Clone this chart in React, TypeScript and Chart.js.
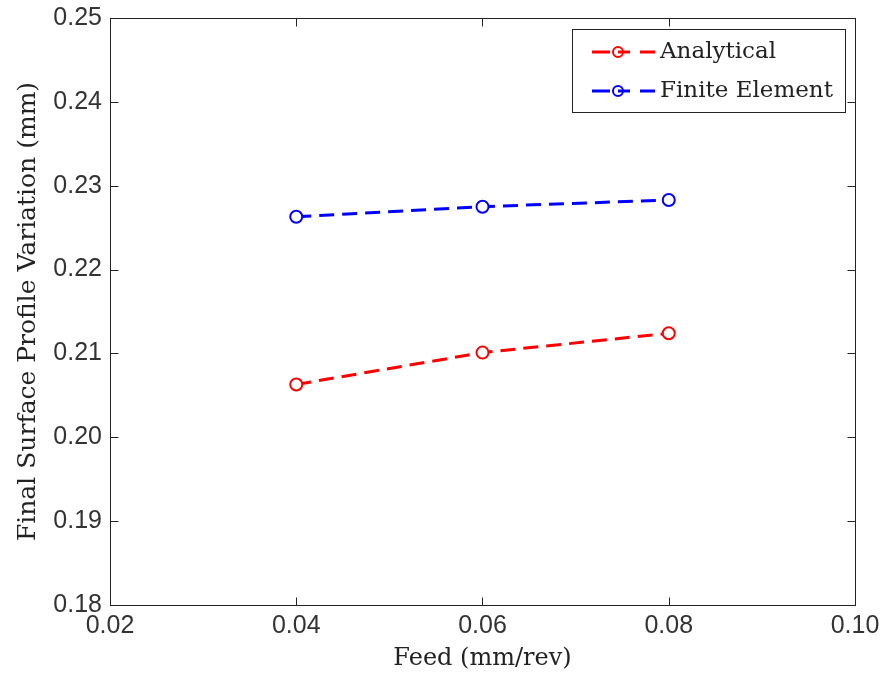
import React, { useEffect, useRef } from "react";
import { Chart, registerables } from "chart.js";
Chart.register(...registerables);

const feed = [0.04, 0.06, 0.08];
const analytical = [0.2063, 0.2101, 0.2124];
const finiteElement = [0.2263, 0.2275, 0.2283];
const seriesNames = ["Analytical", "Finite Element"];
const seriesColors = ["#ff0000", "#0000ff"];
const xTicks = [0.02, 0.04, 0.06, 0.08, 0.1];
const yTicks = [0.18, 0.19, 0.2, 0.21, 0.22, 0.23, 0.24, 0.25];

const SERIF = "'DejaVu Serif'";
const SANS = "'Liberation Sans'";

const framePlugin = {
  id: "frame",
  afterDraw(chart: any) {
    const { ctx, chartArea: a, scales } = chart;
    ctx.save();
    ctx.strokeStyle = "#222";
    ctx.lineWidth = 1;
    const L = Math.round(a.left) + 0.5, R = Math.round(a.right) + 0.5;
    const T = Math.round(a.top) + 0.5, B = Math.round(a.bottom) + 0.5;
    ctx.strokeRect(L, T, R - L, B - T);
    const tl = 8;
    ctx.beginPath();
    xTicks.forEach((v) => {
      const x = Math.round(scales.x.getPixelForValue(v)) + 0.5;
      ctx.moveTo(x, B); ctx.lineTo(x, B - tl);
      ctx.moveTo(x, T); ctx.lineTo(x, T + tl);
    });
    yTicks.forEach((v) => {
      const y = Math.round(scales.y.getPixelForValue(v)) + 0.5;
      ctx.moveTo(L, y); ctx.lineTo(L + tl, y);
      ctx.moveTo(R, y); ctx.lineTo(R - tl, y);
    });
    ctx.stroke();

    // legend
    const bx = 572.5, by = 29.5, bw = 273, bh = 83;
    ctx.fillStyle = "#fff";
    ctx.fillRect(bx, by, bw, bh);
    ctx.strokeStyle = "#222";
    ctx.strokeRect(bx, by, bw, bh);
    const rows = [52, 91];
    seriesNames.forEach((name, i) => {
      const y = rows[i];
      ctx.strokeStyle = seriesColors[i];
      ctx.lineWidth = 3;
      ctx.beginPath();
      ctx.moveTo(592, y); ctx.lineTo(610, y);
      ctx.moveTo(618, y); ctx.lineTo(630, y);
      ctx.moveTo(640, y); ctx.lineTo(655, y);
      ctx.stroke();
      ctx.lineWidth = 2;
      ctx.beginPath();
      ctx.arc(618, y, 5, 0, Math.PI * 2);
      ctx.stroke();
      ctx.fillStyle = "#222";
      ctx.font = `23px ${SERIF}`;
      ctx.textBaseline = "middle";
      ctx.textAlign = "left";
      ctx.fillText(name, 660, y);
    });
    ctx.restore();
  },
};

export default function App() {
  const ref = useRef<HTMLCanvasElement>(null);
  useEffect(() => {
    const mk = (i: number, vals: number[]) => ({
      label: seriesNames[i],
      data: feed.map((x, k) => ({ x, y: vals[k] })),
      borderColor: seriesColors[i],
      backgroundColor: "#fff",
      borderWidth: 3,
      borderDash: [15, 8],
      pointRadius: 6,
      pointBorderWidth: 2,
      pointBackgroundColor: "#fff",
      pointBorderColor: seriesColors[i],
      tension: 0,
    });
    const chart = new Chart(ref.current!, {
      type: "line",
      data: { datasets: [mk(0, analytical), mk(1, finiteElement)] },
      options: {
        animation: false,
        responsive: true,
        maintainAspectRatio: false,
        layout: { padding: { left: 0, right: 32, top: 18, bottom: 0 } },
        plugins: { legend: { display: false }, tooltip: { enabled: false } },
        scales: {
          x: {
            type: "linear",
            min: 0.02,
            max: 0.1,
            afterBuildTicks: (s: any) => { s.ticks = xTicks.map((v) => ({ value: v })); },
            afterFit: (s: any) => { s.height = 76; s.paddingLeft = 0; s.paddingRight = 0; },
            grid: { display: false, drawTicks: false },
            border: { display: false },
            ticks: {
              padding: 6,
              color: "#333",
              font: { family: SANS, size: 25 },
              callback: (v: any) => Number(v).toFixed(2),
              maxRotation: 0,
            },
            title: {
              display: true,
              text: "Feed (mm/rev)",
              color: "#222",
              font: { family: SERIF, size: 24 },
              padding: { top: 0, bottom: 8 },
            },
          },
          y: {
            type: "linear",
            min: 0.18,
            max: 0.25,
            afterBuildTicks: (s: any) => { s.ticks = yTicks.map((v) => ({ value: v })); },
            afterFit: (s: any) => { s.width = 110; s.paddingTop = 0; s.paddingBottom = 0; },
            grid: { display: false, drawTicks: false },
            border: { display: false },
            ticks: {
              padding: 8,
              color: "#333",
              font: { family: SANS, size: 25 },
              callback: (v: any) => Number(v).toFixed(2),
            },
            title: {
              display: true,
              text: "Final Surface Profile Variation (mm)",
              color: "#222",
              font: { family: SERIF, size: 25 },
              padding: { top: 13, bottom: 0 },
            },
          },
        },
      },
      plugins: [framePlugin],
    });
    return () => chart.destroy();
  }, []);
  return (
    <div style={{ position: "absolute", left: 0, top: 0, width: 887, height: 681, background: "#fff" }}>
      <canvas ref={ref} />
    </div>
  );
}
